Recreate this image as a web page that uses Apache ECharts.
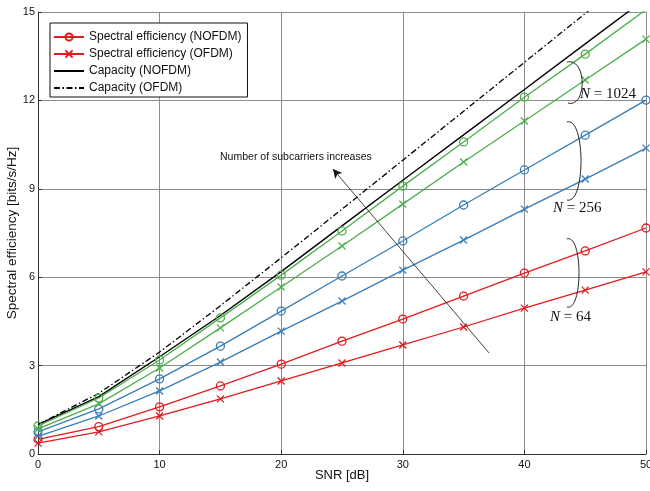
<!DOCTYPE html>
<html>
<head>
<meta charset="utf-8">
<title>Spectral efficiency vs SNR</title>
<script src="https://cdn.jsdelivr.net/npm/echarts@6/dist/echarts.min.js"></script>
<style>
  html, body { margin: 0; padding: 0; background: #fff; }
  #chart { width: 650px; height: 491px; }
</style>
</head>
<body>
<div id="chart"></div>
<script>
// SNR sample points [dB]
const snr = [0, 5, 10, 15, 20, 25, 30, 35, 40, 45, 50];

// Spectral efficiency [bits/s/Hz] for N = 64, 256, 1024 subcarriers
const seNofdm64   = [0.50, 0.93, 1.60, 2.31, 3.05, 3.83, 4.58, 5.36, 6.14, 6.89, 7.67];
const seOfdm64    = [0.37, 0.75, 1.29, 1.87, 2.48, 3.09, 3.70, 4.31, 4.95, 5.56, 6.18];
const seNofdm256  = [0.75, 1.53, 2.55, 3.66, 4.85, 6.04, 7.23, 8.45, 9.64, 10.82, 12.01];
const seOfdm256   = [0.60, 1.29, 2.14, 3.12, 4.17, 5.19, 6.24, 7.26, 8.31, 9.33, 10.38];
const seNofdm1024 = [0.95, 1.90, 3.19, 4.62, 6.07, 7.57, 9.09, 10.59, 12.11, 13.57, 15.08];
const seOfdm1024  = [0.85, 1.70, 2.92, 4.28, 5.67, 7.06, 8.48, 9.91, 11.30, 12.69, 14.08];

// Capacity curves
const capNofdm = [1.00, 1.95, 3.30, 4.70, 6.19, 7.74, 9.29, 10.83, 12.37, 13.92, 15.46];
const capOfdm  = [1.00, 2.06, 3.46, 5.03, 6.66, 8.31, 9.97, 11.63, 13.29, 14.95, 16.61];

// Axis ticks
const xTicks = [0, 10, 20, 30, 40, 50];
const yTicks = [0, 3, 6, 9, 12, 15];

// Legend names
const nameSeNofdm = 'Spectral efficiency (NOFDM)';
const nameSeOfdm = 'Spectral efficiency (OFDM)';
const nameCapNofdm = 'Capacity (NOFDM)';
const nameCapOfdm = 'Capacity (OFDM)';

// Group annotations: brace end points and control points (data coordinates)
const braceLabels = ['1024', '256', '64'];
const braceTop    = [[43.5, 13.30], [43.5, 11.27], [43.5, 7.30]];
const braceBottom = [[43.59, 11.91], [43.5, 8.62], [43.5, 4.99]];
const braceCtrl1  = [[45.15, 13.47], [45.04, 11.44], [44.82, 7.47]];
const braceCtrl2  = [[45.15, 11.74], [45.04, 8.45], [44.82, 4.82]];
const braceLabelAt = [[44.57, 12.22], [42.35, 8.35], [42.1, 4.65]];

// Trend arrow and its caption (data coordinates)
const arrowFrom = [37.09, 3.43];
const arrowTo = [24.26, 9.67];
const arrowCaption = 'Number of subcarriers increases';
const arrowCaptionAt = [14.97, 10.08];

const RED = '#e41a1c', BLUE = '#377eb8', GREEN = '#4daf4a';
const SANS = '"Liberation Sans", Arial, Helvetica, sans-serif';
const SERIF = '"Liberation Serif", "Times New Roman", serif';
const CROSS = 'path://M0,0L10,10M10,0L0,10';

function pairs(ys) { return snr.map((x, i) => [x, ys[i]]); }

function seSeries(name, ys, color, marker) {
  return {
    name: name,
    type: 'line',
    data: pairs(ys),
    symbol: marker === 'o' ? 'circle' : CROSS,
    symbolSize: marker === 'o' ? 8 : 7,
    showAllSymbol: true,
    lineStyle: { color: color, width: 1.3 },
    itemStyle: { color: 'rgba(0,0,0,0)', borderColor: color, borderWidth: 1.3 },
    emphasis: { disabled: true },
    z: 3
  };
}

const chart = echarts.init(document.getElementById('chart'), null, { renderer: 'canvas' });

const option = {
  backgroundColor: '#fff',
  animation: false,
  grid: { left: 38, right: 4, top: 12, bottom: 37, containLabel: false, outerBoundsMode: 'none' },
  legend: {
    orient: 'vertical',
    left: 50,
    top: 23,
    padding: [7, 6, 2, 3],
    itemWidth: 30,
    itemHeight: 9,
    itemGap: 3,
    backgroundColor: '#fff',
    borderColor: '#111',
    borderWidth: 1,
    borderRadius: 0,
    textStyle: { fontFamily: SANS, fontSize: 12, color: '#111', lineHeight: 14 },
    data: [
      { name: nameSeNofdm },
      { name: nameSeOfdm },
      { name: nameCapNofdm, itemStyle: { opacity: 0 } },
      { name: nameCapOfdm, itemStyle: { opacity: 0 } }
    ],
    selectedMode: false
  },
  xAxis: {
    type: 'value',
    min: xTicks[0],
    max: xTicks[xTicks.length - 1],
    interval: xTicks[1] - xTicks[0],
    name: 'SNR [dB]',
    nameLocation: 'middle',
    nameGap: 15,
    nameMoveOverlap: false,
    nameTextStyle: { fontFamily: SANS, fontSize: 13, color: '#111' },
    axisLine: { show: true, lineStyle: { color: '#333', width: 1 } },
    axisTick: { show: true, inside: true, length: 4, lineStyle: { color: '#333' } },
    axisLabel: { fontFamily: SANS, fontSize: 11, color: '#111', margin: 5 },
    splitLine: { show: true, lineStyle: { color: '#8c8c8c', width: 1 } }
  },
  yAxis: {
    type: 'value',
    min: yTicks[0],
    max: yTicks[yTicks.length - 1],
    interval: yTicks[1] - yTicks[0],
    name: 'Spectral efficiency [bits/s/Hz]',
    nameLocation: 'middle',
    nameGap: 19,
    nameMoveOverlap: false,
    nameTextStyle: { fontFamily: SANS, fontSize: 13.5, color: '#111' },
    axisLine: { show: true, lineStyle: { color: '#333', width: 1 } },
    axisTick: { show: true, inside: true, length: 4, lineStyle: { color: '#333' } },
    axisLabel: { fontFamily: SANS, fontSize: 11, color: '#111', margin: 3 },
    splitLine: { show: true, lineStyle: { color: '#8c8c8c', width: 1 } }
  },
  series: [
    seSeries(nameSeNofdm, seNofdm64, RED, 'o'),
    seSeries(nameSeOfdm, seOfdm64, RED, 'x'),
    seSeries(nameSeNofdm, seNofdm256, BLUE, 'o'),
    seSeries(nameSeOfdm, seOfdm256, BLUE, 'x'),
    seSeries(nameSeNofdm, seNofdm1024, GREEN, 'o'),
    seSeries(nameSeOfdm, seOfdm1024, GREEN, 'x'),
    {
      name: nameCapNofdm,
      type: 'line',
      data: pairs(capNofdm),
      symbol: 'none',
      lineStyle: { color: '#000', width: 1.4 },
      itemStyle: { color: '#000' },
      emphasis: { disabled: true },
      z: 2
    },
    {
      name: nameCapOfdm,
      type: 'line',
      data: pairs(capOfdm),
      symbol: 'none',
      lineStyle: { color: '#000', width: 1.3, type: [6, 2.5, 1.5, 2.5] },
      itemStyle: { color: '#000' },
      emphasis: { disabled: true },
      z: 2,
      markLine: {
        silent: true,
        symbol: ['none', 'arrow'],
        symbolSize: [7, 9],
        label: { show: false },
        lineStyle: { color: '#111', width: 0.8, type: 'solid' },
        data: [[{ coord: arrowFrom }, { coord: arrowTo }]]
      }
    }
  ]
};

chart.setOption(option);

// Annotations placed from data coordinates
function px(p) { return chart.convertToPixel({ gridIndex: 0 }, p); }

const graphics = [];
braceLabels.forEach((lab, i) => {
  const a = px(braceTop[i]), b = px(braceBottom[i]);
  const c1 = px(braceCtrl1[i]), c2 = px(braceCtrl2[i]);
  graphics.push({
    type: 'bezierCurve',
    shape: { x1: a[0], y1: a[1], x2: b[0], y2: b[1], cpx1: c1[0], cpy1: c1[1], cpx2: c2[0], cpy2: c2[1] },
    style: { stroke: '#111', lineWidth: 0.9, fill: null },
    silent: true,
    z: 10
  });
  const t = px(braceLabelAt[i]);
  graphics.push({
    type: 'text',
    x: t[0],
    y: t[1],
    style: {
      text: '{n|N} = ' + lab,
      verticalAlign: 'middle',
      align: 'left',
      font: '15px ' + SERIF,
      fill: '#111',
      rich: { n: { fontStyle: 'italic', fontFamily: SERIF, fontSize: 15, fill: '#111' } }
    },
    silent: true,
    z: 10
  });
});

const cap = px(arrowCaptionAt);
graphics.push({
  type: 'text',
  x: cap[0],
  y: cap[1],
  style: {
    text: arrowCaption,
    verticalAlign: 'middle',
    align: 'left',
    font: '10.5px ' + SANS,
    fill: '#111'
  },
  silent: true,
  z: 10
});

chart.setOption({ graphic: graphics });
</script>
</body>
</html>
